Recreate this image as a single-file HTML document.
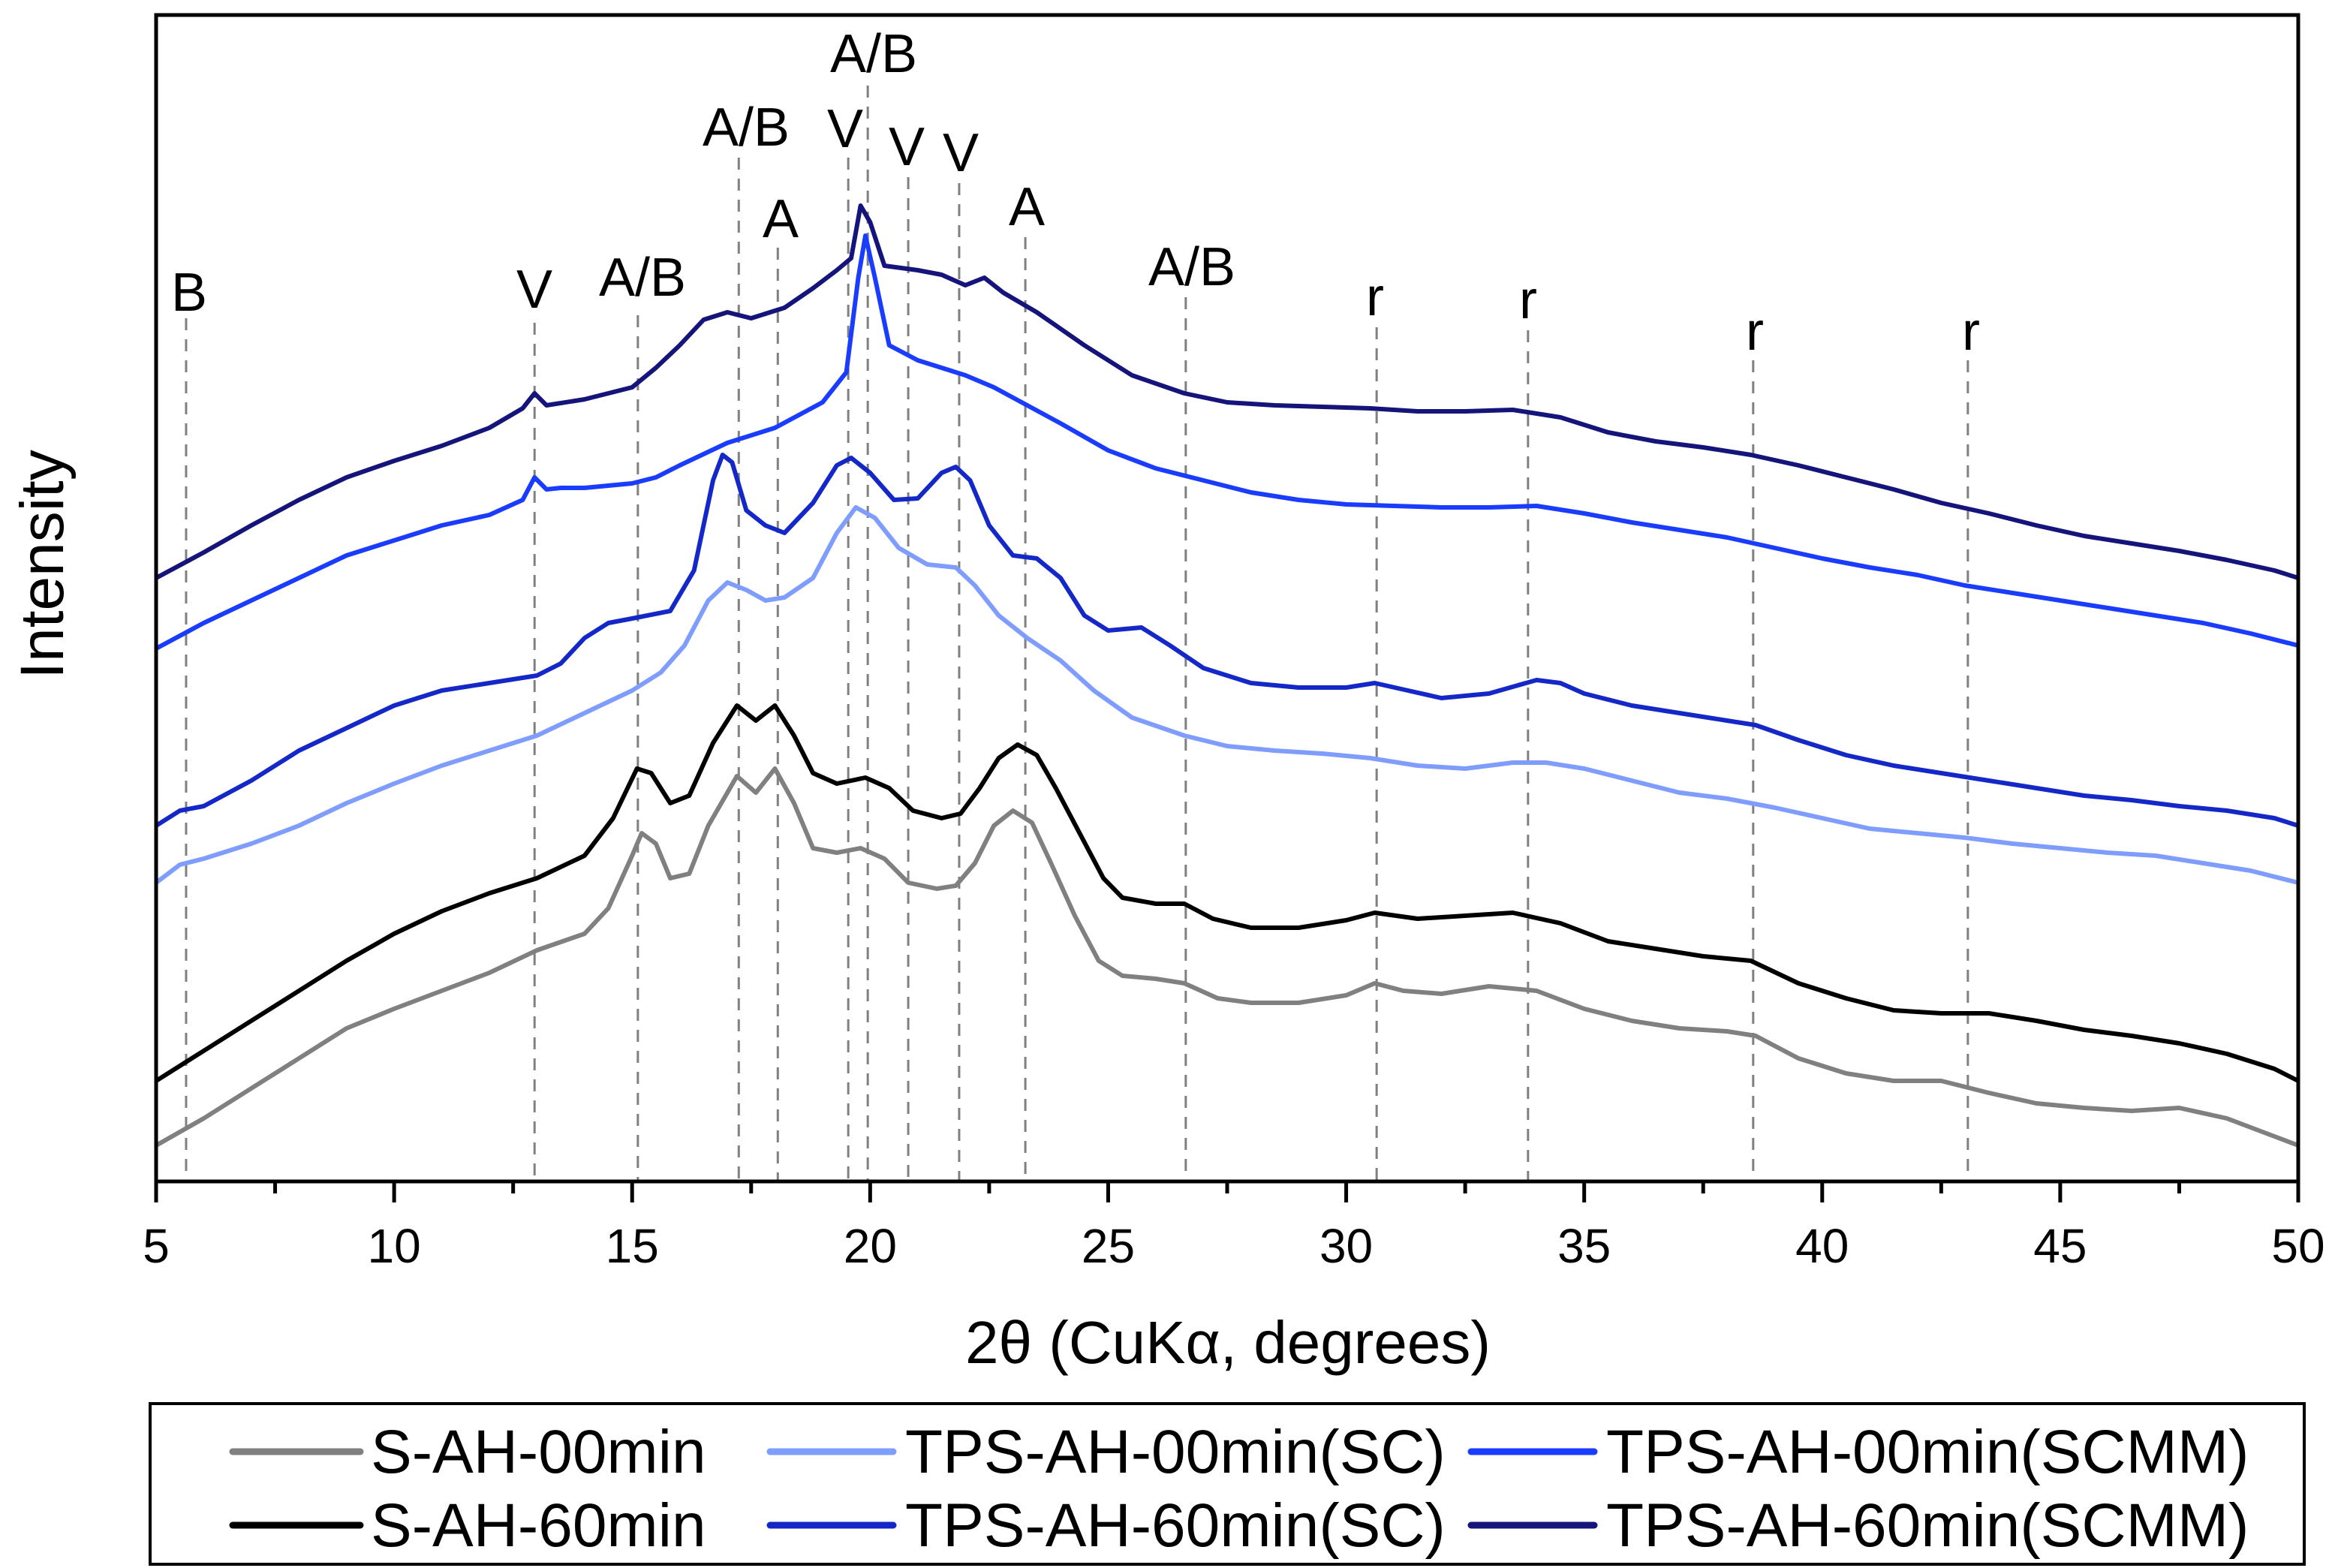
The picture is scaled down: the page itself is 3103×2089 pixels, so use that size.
<!DOCTYPE html>
<html><head><meta charset="utf-8"><style>
html,body{margin:0;padding:0;background:#fff;}
svg{display:block;font-family:"Liberation Sans",Arial,sans-serif;}
</style></head><body>
<svg id="chart" width="3103" height="2089" viewBox="0 0 3103 2089" xmlns="http://www.w3.org/2000/svg">
<g id="refs"></g>
<g id="series"></g>
<rect x="208" y="20" width="2854" height="1554" fill="none" stroke="#000" stroke-width="5"/>
<g id="ticks"></g>
<text x="1636" y="1816" font-size="80" text-anchor="middle">2θ (CuKα, degrees)</text>
<text transform="translate(84,752) rotate(-90)" font-size="82" text-anchor="middle">Intensity</text>
<g>
<rect x="200" y="1870" width="2870" height="214" fill="none" stroke="#000" stroke-width="4"/>
<g font-size="82">
<line x1="310" y1="1934" x2="480" y2="1934" stroke="#808080" stroke-width="9" stroke-linecap="round"/>
<text x="494" y="1962">S-AH-00min</text>
<line x1="310" y1="2032" x2="480" y2="2032" stroke="#000" stroke-width="9" stroke-linecap="round"/>
<text x="494" y="2060">S-AH-60min</text>
<line x1="1026" y1="1934" x2="1190" y2="1934" stroke="#7f9cff" stroke-width="9" stroke-linecap="round"/>
<text x="1206" y="1962">TPS-AH-00min(SC)</text>
<line x1="1026" y1="2032" x2="1190" y2="2032" stroke="#1428c8" stroke-width="9" stroke-linecap="round"/>
<text x="1206" y="2060">TPS-AH-60min(SC)</text>
<line x1="1960" y1="1934" x2="2124" y2="1934" stroke="#1a3cff" stroke-width="9" stroke-linecap="round"/>
<text x="2140" y="1962">TPS-AH-00min(SCMM)</text>
<line x1="1960" y1="2032" x2="2124" y2="2032" stroke="#14147a" stroke-width="9" stroke-linecap="round"/>
<text x="2140" y="2060">TPS-AH-60min(SCMM)</text>
</g></g>
</svg>
<script>
const refX = [5.63,12.95,15.12,17.24,18.06,19.54,19.95,20.8,21.87,23.26,26.63,30.64,33.82,38.55,43.06];
const refTop = [212,215,210,105,165,105,57,118,122,158,198,218,220,240,240];
const refLabels = ["B","V","A/B","A/B","A","V","A/B","V","V","A","A/B","r","r","r","r"];
const refLabelX = [126,356,428,497,520,563,582,604,640,684,794,916,1018,1169,1313];
const refLabelY = [207,205,197,97,158,98,48,110,114,150,190,210,212,233,233];
const xTicks = [5,10,15,20,25,30,35,40,45,50];

const xS00 = [5,6,7,8,9,10,11,12,13,14,14.5,15,15.2,15.5,15.8,16.2,16.6,17.2,17.6,18,18.4,18.8,19.3,19.8,20.3,20.8,21.4,21.8,22.2,22.6,23,23.4,23.8,24.3,24.8,25.3,26,26.6,27.3,28,29,30,30.6,31.2,32,33,34,35,36,37,38,38.6,39.5,40.5,41.5,42.5,43.5,44.5,45.5,46.5,47.5,48.5,49.5,50];
const yS00 = [24,42,62,82,102,115,127,139,154,165,182,217,232,225,202,205,237,270,259,275,252,222,219,222,215,199,195,197,212,237,247,239,212,177,147,137,135,132,122,119,119,124,132,127,125,130,127,115,107,102,100,97,82,72,67,67,59,52,49,47,49,42,30,24];
const xS60 = [5,6,7,8,9,10,11,12,13,14,14.6,15.1,15.4,15.8,16.2,16.7,17.2,17.6,18,18.4,18.8,19.3,19.9,20.4,20.9,21.5,21.9,22.3,22.7,23.1,23.5,23.9,24.4,24.9,25.3,26,26.6,27.2,28,29,30,30.6,31.5,32.5,33.5,34.5,35.5,36.5,37.5,38.5,39.5,40.5,41.5,42.5,43.5,44.5,45.5,46.5,47.5,48.5,49.5,50];
const yS60 = [67,87,107,127,147,165,180,192,202,217,242,275,272,252,257,292,317,307,317,297,272,265,269,262,247,242,245,262,282,291,284,262,232,202,189,185,185,175,169,169,174,179,175,177,179,172,160,155,150,147,132,122,114,112,112,107,101,97,92,85,75,67];
const xT00SC = [5,5.5,6,7,8,9,10,11,12,13,14,15,15.6,16.1,16.6,17,17.4,17.8,18.2,18.8,19.3,19.7,20.1,20.6,21.2,21.8,22.2,22.7,23.3,24,24.7,25.5,26.6,27.5,28.5,29.5,30.5,31.5,32.5,33.5,34.2,35,36,37,38,39,40,41,42,43,44,45,46,47,48,49,50];
const yT00SC = [199,211,215,225,237,252,265,277,287,297,312,327,339,357,387,399,394,387,389,402,432,449,442,422,411,409,397,377,362,347,327,309,297,290,287,285,282,277,275,279,279,275,267,259,255,249,242,235,232,229,225,222,219,217,212,207,199];
const xT60SC = [5,5.5,6,7,8,9,10,11,12,13,13.5,14,14.5,15,15.8,16.3,16.7,16.9,17.1,17.4,17.8,18.2,18.8,19.3,19.6,20,20.5,21,21.5,21.8,22.1,22.5,23,23.5,24,24.5,25,25.7,26.3,27,28,29,30,30.6,31.3,32,33,34,34.5,35,36,37,38,38.6,39.5,40.5,41.5,42.5,43.5,44.5,45.5,46.5,47.5,48.5,49.5,50];
const yT60SC = [237,247,250,267,287,302,317,327,332,337,345,362,372,375,380,407,467,484,479,447,437,432,452,477,482,472,454,455,472,476,467,437,417,415,402,377,367,369,357,342,332,329,329,332,327,322,325,334,332,325,317,312,307,304,294,284,277,272,267,262,257,254,250,247,242,237];
const xT00M = [5,6,7,8,9,10,11,12,12.7,12.95,13.2,13.5,14,15,15.5,16,17,18,19,19.5,19.75,19.9,20.1,20.4,21,22,22.6,23.3,24,25,26,27,28,29,30,31,32,33,34,35,36,37,38,39,40,41,42,43,44,45,46,47,48,49,50];
const yT00M = [355,372,387,402,417,427,437,444,454,469,461,462,462,465,469,477,492,502,519,539,602,630,602,557,547,537,529,517,505,487,475,467,459,454,451,450,449,449,450,445,439,434,429,422,415,409,404,397,392,387,382,377,372,365,357];
const xT60M = [5,6,7,8,9,10,11,12,12.7,12.95,13.2,14,15,15.5,16,16.5,17,17.5,18.2,18.8,19.3,19.6,19.8,20,20.3,21,21.5,22,22.4,22.8,23.5,24.5,25.5,26.6,27.5,28.5,29.5,30.5,31.5,32.5,33.5,34.5,35.5,36.5,37.5,38.5,39.5,40.5,41.5,42.5,43.5,44.5,45.5,46.5,47.5,48.5,49.5,50];
const yT60M = [402,419,437,454,469,480,490,502,515,525,517,521,529,542,557,574,579,575,582,595,607,615,650,639,610,607,604,597,602,592,579,557,537,525,519,517,516,515,513,513,514,509,499,493,489,484,477,469,461,452,445,437,430,425,420,414,407,402];

const NS = "http://www.w3.org/2000/svg";
const X0 = 208, X1 = 3062, Y0 = 1574, Y1 = 20;
function sx(v){ return X0 + (v - 5) / 45 * (X1 - X0); }
function sy(v){ return Y0 - v / 777 * (Y0 - Y1); }
function mk(tag, attrs, parent){ const e = document.createElementNS(NS, tag); for (const k in attrs) e.setAttribute(k, attrs[k]); parent.appendChild(e); return e; }

const refs = document.getElementById('refs');
refX.forEach((v, i) => {
  const l = mk('line', {x1: sx(v), x2: sx(v), y1: refTop[i]*2, y2: Y0, stroke: '#808080', 'stroke-width': 3, 'stroke-dasharray': '16,12'}, refs);
  
  
  const t = mk('text', {x: refLabelX[i]*2, y: refLabelY[i]*2, 'font-size': 72, 'text-anchor': 'middle'}, refs);
  t.textContent = refLabels[i];
  
  
});

const seriesDefs = [
  [xS00, yS00, '#808080', 's-ah-00min'],
  [xS60, yS60, '#000000', 's-ah-60min'],
  [xT00SC, yT00SC, '#7f9cff', 'tps-ah-00min-sc'],
  [xT60SC, yT60SC, '#1428c8', 'tps-ah-60min-sc'],
  [xT00M, yT00M, '#1a3cff', 'tps-ah-00min-scmm'],
  [xT60M, yT60M, '#14147a', 'tps-ah-60min-scmm']
];
const sg = document.getElementById('series');
seriesDefs.forEach(d => {
  const pts = d[0].map((x, i) => sx(x).toFixed(1) + ',' + sy(d[1][i]).toFixed(1)).join(' ');
  const p = mk('polyline', {points: pts, fill: 'none', stroke: d[2], 'stroke-width': 6, 'stroke-linejoin': 'round'}, sg);
  
  
});

const tg = document.getElementById('ticks');
for (let v = 5; v <= 50; v += 2.5) {
  const major = Number.isInteger(v / 5);
  const t = mk('line', {x1: sx(v), x2: sx(v), y1: Y0, y2: Y0 + (major ? 28 : 16), stroke: '#000', 'stroke-width': 5}, tg);
  
  
}
xTicks.forEach(v => {
  const t = mk('text', {x: sx(v), y: 1682, 'font-size': 64, 'text-anchor': 'middle'}, tg);
  t.textContent = v;
  
  
});
</script>
</body></html>
